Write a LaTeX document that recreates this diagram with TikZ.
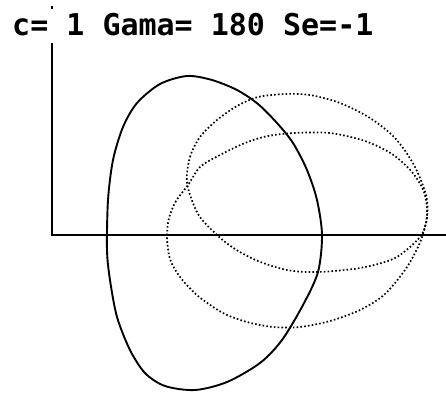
\documentclass[tikz,border=0pt]{standalone}
\usepackage{fontspec}
\newfontfamily\bgifont{DejaVu Sans Mono}
\begin{document}
\begin{tikzpicture}[x=1pt,y=-1pt,
  axisline/.style={line width=2pt,black},
  solidcurve/.style={line width=1.9pt,black},
  dotcurve/.style={line width=1.7pt,black,dash pattern=on 1.6pt off 2.2pt},
  titletext/.style={anchor=base west,inner sep=0pt,font=\bgifont\bfseries\fontsize{30}{30}\selectfont}]
\useasboundingbox (0,0) rectangle (446,392);
% title
\node[titletext] (title) at (12,35) {c= 1 Gama= 180 Se=-1};
% axes
\fill (51,6) rectangle (53,8.5);
\draw[axisline] (52,43) -- (52,235) -- (446,235);
% solid curve
\draw[solidcurve] plot[smooth cycle,tension=0.5] coordinates {
 (187,76) (212,80) (237,90) (258,104) (277,123) (293,143) (307,170) (317,200)
 (322,235) (318,272) (303,305) (282,340) (260,363) (227,382) (195,390) (165,386)
 (145,373) (130,350) (117,317) (110,280) (107,250) (108,200) (113,160) (123,127)
 (137,103) (160,84)};
% dotted curve A (upper)
\draw[dotcurve] plot[smooth cycle,tension=0.5] coordinates {
 (187,183) (190,157) (200,137) (217,120) (237,106) (258,97) (285,94) (310,95)
 (340,103) (370,118) (395,138) (414,165) (426,195) (427,218) (420,237) (395,258)
 (360,268) (317,272) (287,270) (258,261) (235,249) (217,235) (198,214)};
% dotted curve B (lower)
\draw[dotcurve] plot[smooth cycle,tension=0.5] coordinates {
 (188,185) (176,201) (169,218) (167,237) (170,259) (180,277) (198,296)
 (223,313) (247,322) (273,327) (300,327) (330,321) (360,310) (385,294) (407,267)
 (421,240) (427,215) (424,192) (412,172) (392,154) (365,141) (330,133) (295,133)
 (268,136) (245,143) (218,156) (200,167)};
\end{tikzpicture}
\end{document}
